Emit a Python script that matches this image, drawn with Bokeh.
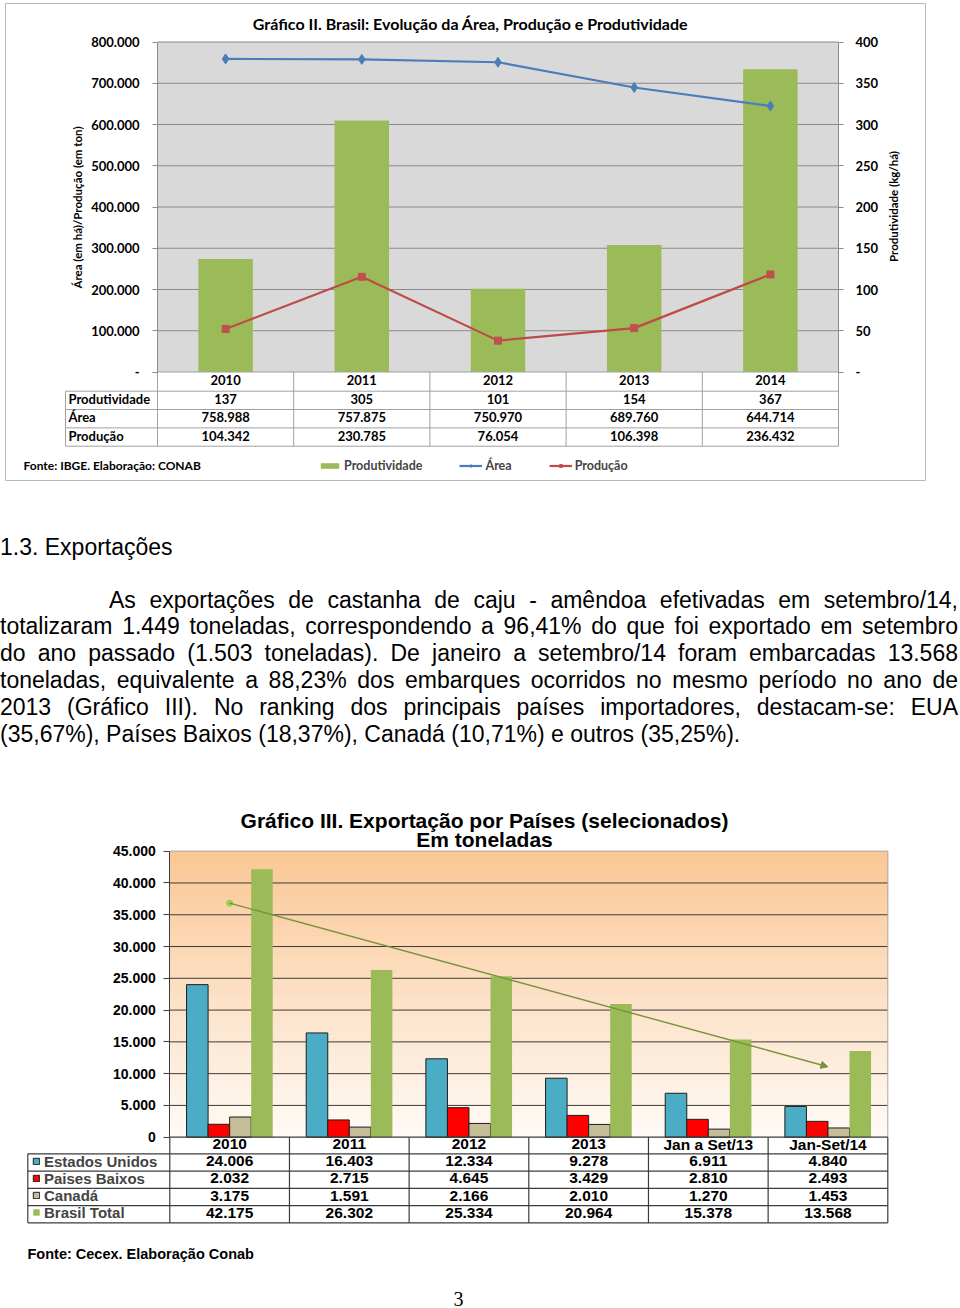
import numpy as np
from bokeh.plotting import figure
from bokeh.models import (Range1d, LinearAxis, FixedTicker, Legend, LegendItem,
                          Arrow, NormalHead, Div, ColumnDataSource)
from bokeh.layouts import column
from bokeh.core.properties import value
from bokeh.embed import file_html
from bokeh.resources import INLINE
from bokeh.transform import dodge

# ---------------- data: Gráfico II ----------------
years2 = ["2010", "2011", "2012", "2013", "2014"]
produtividade = [137, 305, 101, 154, 367]          # kg/há (right axis)
area = [758988, 757875, 750970, 689760, 644714]     # há (left axis)
producao = [104342, 230785, 76054, 106398, 236432]  # ton (left axis)
ticks2_left = [0, 100000, 200000, 300000, 400000, 500000, 600000, 700000, 800000]
ticks2_right = [0, 50, 100, 150, 200, 250, 300, 350, 400]
row_labels2 = ["Produtividade", "Área", "Produção"]

# ---------------- data: Gráfico III ----------------
periods3 = ["2010", "2011", "2012", "2013", "Jan a Set/13", "Jan-Set/14"]
estados_unidos = [24006, 16403, 12334, 9278, 6911, 4840]
paises_baixos = [2032, 2715, 4645, 3429, 2810, 2493]
canada = [3175, 1591, 2166, 2010, 1270, 1453]
brasil_total = [42175, 26302, 25334, 20964, 15378, 13568]
ticks3 = [0, 5000, 10000, 15000, 20000, 25000, 30000, 35000, 40000, 45000]
series_names3 = ["Estados Unidos", "Paises Baixos", "Canadá", "Brasil Total"]

# ---------------- text ----------------
heading = "1.3. Exportações"
paragraph_lines = [
    "As exportações de castanha de caju - amêndoa efetivadas em setembro/14,",
    "totalizaram 1.449 toneladas, correspondendo a 96,41% do que foi exportado em setembro",
    "do ano passado (1.503 toneladas). De janeiro a setembro/14 foram embarcadas 13.568",
    "toneladas, equivalente a 88,23% dos embarques ocorridos no mesmo período no ano de",
    "2013 (Gráfico III). No ranking dos principais países importadores, destacam-se: EUA",
    "(35,67%), Países Baixos (18,37%), Canadá (10,71%) e outros (35,25%).",
]
page_number = "3"


def br(v):
    return f"{v:,}".replace(",", ".")


def lin_range(v_a, p_a, v_b, p_b, p_start, p_end):
    k = (v_b - v_a) / (p_b - p_a)
    return Range1d(start=v_a + k * (p_start - p_a), end=v_a + k * (p_end - p_a))


W = 960
H1, H_TXT, H2 = 500, 280, 528
LATO = value("Lato")
ARIAL = value("Liberation Sans")

# =========================================================
# Gráfico II
# =========================================================
L2, R2, T2, B2 = 157.0, 838.0, 41.5, 371.5
n2 = len(years2)
cw2 = (R2 - L2) / n2
idx2 = list(range(n2))

p1 = figure(width=W, height=H1, x_range=Range1d(0, W), y_range=Range1d(H1, 0),
            x_axis_type=None, y_axis_type=None, toolbar_location=None,
            output_backend="svg", min_border=0, outline_line_color=None,
            background_fill_color="white", border_fill_color="white")
p1.extra_x_ranges = {"x2": lin_range(0, L2 + cw2 / 2, 1, L2 + 1.5 * cw2, 0, W)}
p1.extra_y_ranges = {"yl": lin_range(0, B2, ticks2_left[-1], T2, H1, 0),
                     "yr": lin_range(0, B2, ticks2_right[-1], T2, H1, 0)}

# outer chart box
p1.quad(left=[5], right=[925], top=[3], bottom=[480], fill_color=None,
        line_color="#b8b8b8", line_width=1)
# plot area background + gridlines
p1.quad(left=[-0.5], right=[n2 - 0.5], bottom=[0], top=[ticks2_left[-1]],
        x_range_name="x2", y_range_name="yl", fill_color="#d9d9d9", line_color=None)
g2 = ticks2_left[1:]
p1.segment(x0=[-0.5] * len(g2), x1=[n2 - 0.5] * len(g2), y0=g2, y1=g2,
           x_range_name="x2", y_range_name="yl", line_color="#8a8a8a", line_width=1)

bars2 = p1.vbar(x=idx2, top=produtividade, bottom=0, width=0.4,
                x_range_name="x2", y_range_name="yr",
                fill_color="#9bbb59", line_color=None)
la = p1.line(idx2, area, x_range_name="x2", y_range_name="yl",
             line_color="#4a7ebb", line_width=2.2)
sa = p1.scatter(idx2, area, x_range_name="x2", y_range_name="yl", marker="diamond",
                size=10, fill_color="#4a7ebb", line_color="#4a7ebb")
lp = p1.line(idx2, producao, x_range_name="x2", y_range_name="yl",
             line_color="#be4b48", line_width=2.2)
sp = p1.scatter(idx2, producao, x_range_name="x2", y_range_name="yl", marker="square",
                size=7, fill_color="#c0504d", line_color="#c0504d")


def style_axis(ax, font, size, color, standoff, tick_out, line_color):
    ax.axis_line_color = line_color
    ax.major_tick_line_color = line_color
    ax.major_tick_out = tick_out
    ax.major_tick_in = 0
    ax.minor_tick_out = 0
    ax.minor_tick_in = 0
    ax.major_label_text_font = font
    ax.major_label_text_font_style = "bold"
    ax.major_label_text_font_size = size
    ax.major_label_text_color = color
    ax.major_label_standoff = standoff


axl = LinearAxis(y_range_name="yl", fixed_location=L2, bounds=(0, ticks2_left[-1]),
                 ticker=FixedTicker(ticks=ticks2_left),
                 major_label_overrides={t: (br(t) if t else "-") for t in ticks2_left})
style_axis(axl, "Lato", "13px", "#000000", 13, 5, "#8a8a8a")
p1.add_layout(axl, "left")
axr = LinearAxis(y_range_name="yr", fixed_location=R2, bounds=(0, ticks2_right[-1]),
                 ticker=FixedTicker(ticks=ticks2_right),
                 major_label_overrides={t: (str(t) if t else "-") for t in ticks2_right})
style_axis(axr, "Lato", "13px", "#000000", 12, 5, "#8a8a8a")
p1.add_layout(axr, "right")

# titles
p1.text(x=[470], y=[23], text=["Gráfico II. Brasil: Evolução da Área, Produção e Produtividade"],
        text_font=LATO, text_font_style="bold", text_font_size="16px",
        text_align="center", text_baseline="middle", text_color="#000000")
p1.text(x=[77], y=[207], text=["Área (em há)/Produção (em ton)"], angle=np.pi / 2,
        text_font=LATO, text_font_style="bold", text_font_size="11.5px",
        text_align="center", text_baseline="middle", text_color="#000000")
p1.text(x=[893], y=[206], text=["Produtividade (kg/há)"], angle=np.pi / 2,
        text_font=LATO, text_font_style="bold", text_font_size="11.5px",
        text_align="center", text_baseline="middle", text_color="#000000")

# data table under the chart
rows2 = [371.5, 390.7, 409.0, 427.4, 445.7]
TL2 = 65
p1.segment(x0=[L2] + [TL2] * 4, x1=[R2] * 5, y0=rows2, y1=rows2,
           line_color="#a0a0a0", line_width=1)
vx2 = [i - 0.5 for i in range(n2 + 1)]
p1.segment(x0=vx2, x1=vx2, y0=[rows2[0]] * len(vx2), y1=[rows2[-1]] * len(vx2),
           x_range_name="x2", line_color="#a0a0a0", line_width=1)
p1.segment(x0=[TL2], x1=[TL2], y0=[rows2[1]], y1=[rows2[-1]],
           line_color="#a0a0a0", line_width=1)
mid2 = [(rows2[i] + rows2[i + 1]) / 2 - 1.5 for i in range(4)]
p1.text(x=idx2, y=[mid2[0]] * n2, text=years2, x_range_name="x2",
        text_font=LATO, text_font_style="bold", text_font_size="13px",
        text_align="center", text_baseline="middle")
for r, vals in enumerate([produtividade, area, producao]):
    p1.text(x=idx2, y=[mid2[r + 1]] * n2, text=[br(v) for v in vals], x_range_name="x2",
            text_font=LATO, text_font_style="bold", text_font_size="13px",
            text_align="center", text_baseline="middle")
p1.text(x=[TL2 + 3] * 3, y=mid2[1:], text=row_labels2,
        text_font=LATO, text_font_style="bold", text_font_size="13px",
        text_align="left", text_baseline="middle")

# footer: source + legend
p1.text(x=[23], y=[465], text=["Fonte: IBGE. Elaboração: CONAB"],
        text_font=LATO, text_font_style="bold", text_font_size="12px",
        text_align="left", text_baseline="middle")
leg1 = Legend(items=[LegendItem(label="Produtividade", renderers=[bars2]),
                     LegendItem(label="Área", renderers=[la, sa]),
                     LegendItem(label="Produção", renderers=[lp, sp])],
              orientation="horizontal", location=(318, H1 - 473),
              glyph_width=23, glyph_height=7, label_standoff=3, spacing=37,
              padding=0, margin=0, label_height=14,
              background_fill_alpha=0, border_line_color=None,
              label_text_font="Lato", label_text_font_style="bold",
              label_text_font_size="12.5px")
p1.add_layout(leg1)

# =========================================================
# Text block
# =========================================================
line_divs = []
for i, t in enumerate(paragraph_lines):
    last = i == len(paragraph_lines) - 1
    st = "text-align:left;" if last else "text-align:justify;text-align-last:justify;"
    if i == 0:
        st += "padding-left:109px;"
    line_divs.append(f'<div style="{st}">{t}</div>')
html = (f'<div style="position:relative;width:{W}px;height:{H_TXT}px;'
        "font-family:'Liberation Sans',Arial,sans-serif;font-size:23px;"
        'line-height:26.8px;color:#000;">'
        f'<div style="position:absolute;left:0px;top:33.6px;white-space:nowrap;">{heading}</div>'
        f'<div style="position:absolute;left:0px;top:86.6px;width:958px;">{"".join(line_divs)}</div>'
        '</div>')
txt = Div(text=html, width=W, height=H_TXT, margin=0)

# =========================================================
# Gráfico III
# =========================================================
L3, R3, T3, B3 = 169.3, 887.3, 70.7, 356.7
n3 = len(periods3)
cw3 = (R3 - L3) / n3
idx3 = list(range(n3))

p2 = figure(width=W, height=H2, x_range=Range1d(0, W), y_range=Range1d(H2, 0),
            x_axis_type=None, y_axis_type=None, toolbar_location=None,
            output_backend="svg", min_border=0, outline_line_color=None,
            background_fill_color="white", border_fill_color="white")
p2.extra_x_ranges = {"x3": lin_range(0, L3 + cw3 / 2, 1, L3 + 1.5 * cw3, 0, W)}
p2.extra_y_ranges = {"y3": lin_range(0, B3, ticks3[-1], T3, H2, 0)}

# gradient background (peach to white)
nstrip = 45
edges = np.linspace(0, ticks3[-1], nstrip + 1)
top_rgb = np.array([250, 199, 148])
bot_rgb = np.array([255, 250, 246])
cols = []
for k in range(nstrip):
    f = (k + 0.5) / nstrip
    c = bot_rgb + (top_rgb - bot_rgb) * f
    cols.append("#%02x%02x%02x" % tuple(int(round(v)) for v in c))
p2.quad(left=[-0.5] * nstrip, right=[n3 - 0.5] * nstrip, bottom=edges[:-1], top=edges[1:],
        x_range_name="x3", y_range_name="y3", fill_color=cols, line_color=cols, line_width=0.6)
g3 = ticks3[1:-1]
p2.segment(x0=[-0.5] * len(g3), x1=[n3 - 0.5] * len(g3), y0=g3, y1=g3,
           x_range_name="x3", y_range_name="y3", line_color="#3c3c3c", line_width=1)
p2.segment(x0=[-0.5, n3 - 0.5], x1=[n3 - 0.5, n3 - 0.5], y0=[ticks3[-1], 0],
           y1=[ticks3[-1], ticks3[-1]], x_range_name="x3", y_range_name="y3",
           line_color="#a8a8a8", line_width=1)

src3 = ColumnDataSource(dict(idx=idx3, eua=estados_unidos, pb=paises_baixos,
                             ca=canada, bt=brasil_total))
bw = 0.18
b_eua = p2.vbar(x=dodge("idx", -0.27), top="eua", width=bw, source=src3,
                x_range_name="x3", y_range_name="y3",
                fill_color="#4bacc6", line_color="#1e1e1e", line_width=1)
b_pb = p2.vbar(x=dodge("idx", -0.09), top="pb", width=bw, source=src3,
               x_range_name="x3", y_range_name="y3",
               fill_color="#ff0000", line_color="#1e1e1e", line_width=1)
b_ca = p2.vbar(x=dodge("idx", 0.09), top="ca", width=bw, source=src3,
               x_range_name="x3", y_range_name="y3",
               fill_color="#c4bd97", line_color="#1e1e1e", line_width=1)
b_bt = p2.vbar(x=dodge("idx", 0.27), top="bt", width=bw, source=src3,
               x_range_name="x3", y_range_name="y3",
               fill_color="#9bbb59", line_color=None)

# linear trend of Brasil Total
coef = np.polyfit(idx3, brasil_total, 1)
trend = np.polyval(coef, [idx3[0], idx3[-1]])
p2.add_layout(Arrow(x_start=idx3[0], y_start=trend[0], x_end=idx3[-1], y_end=trend[1],
                    x_range_name="x3", y_range_name="y3",
                    line_color="#77933c", line_width=1.4,
                    end=NormalHead(size=7, fill_color="#77933c", line_color="#77933c")))
p2.scatter([idx3[0]], [trend[0]], x_range_name="x3", y_range_name="y3",
           size=6, fill_color="#92d050", line_color="#92d050")

ax3 = LinearAxis(y_range_name="y3", fixed_location=L3, bounds=(0, ticks3[-1]),
                 ticker=FixedTicker(ticks=ticks3),
                 major_label_overrides={t: br(t) for t in ticks3})
style_axis(ax3, "Liberation Sans", "14px", "#000000", 8, 6, "#3c3c3c")
p2.add_layout(ax3, "left")

# title
p2.text(x=[484, 484], y=[39.5, 58.5], text=["Gráfico III. Exportação por Países (selecionados)", "Em toneladas"],
        text_font=ARIAL, text_font_style="bold", text_font_size="21px",
        text_align="center", text_baseline="middle")

# data table
rows3 = [356.7, 373.3, 390.7, 407.9, 425.1, 442.3]
TL3 = 27.3
p2.segment(x0=[L3] + [TL3] * 5, x1=[R3] * 6, y0=rows3, y1=rows3,
           line_color="#3c3c3c", line_width=1.2)
vx3 = [i - 0.5 for i in range(n3 + 1)]
p2.segment(x0=vx3, x1=vx3, y0=[rows3[0]] * len(vx3), y1=[rows3[-1]] * len(vx3),
           x_range_name="x3", line_color="#3c3c3c", line_width=1.2)
p2.segment(x0=[TL3], x1=[TL3], y0=[rows3[1]], y1=[rows3[-1]],
           line_color="#3c3c3c", line_width=1.2)
mid3 = [(rows3[i] + rows3[i + 1]) / 2 - 1.5 for i in range(5)]
p2.text(x=idx3, y=[mid3[0]] * n3, text=periods3, x_range_name="x3",
        text_font=ARIAL, text_font_style="bold", text_font_size="15.5px",
        text_align="center", text_baseline="middle")
for r, vals in enumerate([estados_unidos, paises_baixos, canada, brasil_total]):
    p2.text(x=idx3, y=[mid3[r + 1]] * n3, text=[br(v) for v in vals], x_range_name="x3",
            text_font=ARIAL, text_font_style="bold", text_font_size="15.5px",
            text_align="center", text_baseline="middle")
leg3 = Legend(items=[LegendItem(label=nm, renderers=[rr]) for nm, rr in
                     zip(series_names3, [b_eua, b_pb, b_ca, b_bt])],
              orientation="vertical", location=(32, H2 - rows3[-1] + 1.5),
              glyph_width=8, glyph_height=8, label_standoff=4, spacing=0,
              padding=0, margin=0, label_height=17,
              background_fill_alpha=0, border_line_color=None,
              label_text_font="Liberation Sans", label_text_font_style="bold",
              label_text_font_size="15px")
p2.add_layout(leg3)

p2.text(x=[27], y=[473], text=["Fonte: Cecex. Elaboração Conab"],
        text_font=ARIAL, text_font_style="bold", text_font_size="14.5px",
        text_align="left", text_baseline="middle")
p2.text(x=[458], y=[518], text=[page_number], text_font=value("Liberation Serif"),
        text_font_size="20px", text_align="center", text_baseline="middle")

layout = column(p1, txt, p2, spacing=0)
open("out.html", "w").write(file_html(layout, INLINE))
